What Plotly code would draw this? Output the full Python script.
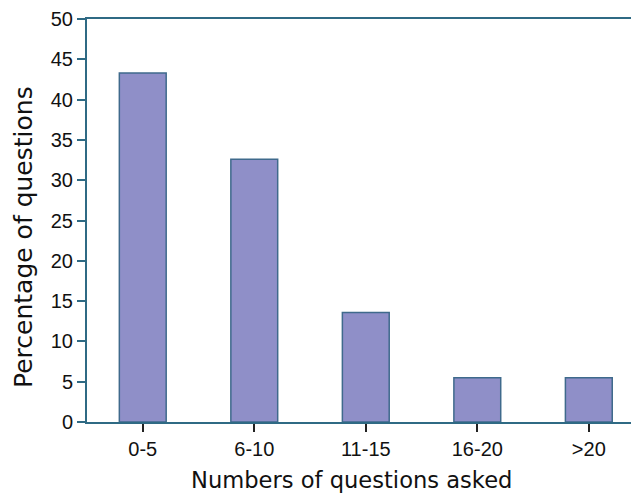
import plotly.graph_objects as go

categories = ["0-5", "6-10", "11-15", "16-20", ">20"]
percentages = [43.3, 32.6, 13.6, 5.5, 5.5]
y_ticks = [0, 5, 10, 15, 20, 25, 30, 35, 40, 45, 50]
x_title = "Numbers of questions asked"
y_title = "Percentage of questions"

axis_col = "#2f6a84"
fig = go.Figure(go.Bar(
    x=categories, y=percentages,
    marker=dict(color="#8f8fc8", line=dict(color="#3f6a8c", width=1.5)),
    width=0.42,
))
# The page body has an 8px margin, so the figure is sized/offset to compensate
fig.update_layout(
    width=631, height=485,
    margin=dict(l=79, r=0, t=11, b=71, autoexpand=False),
    plot_bgcolor="white", paper_bgcolor="white",
    showlegend=False,
    font=dict(family="Liberation Sans, Arial", color="#111111"),
    annotations=[
        dict(text=x_title, xref="paper", yref="paper", x=0.479, y=-0.144,
             showarrow=False, xanchor="center", yanchor="middle",
             font=dict(family="DejaVu Sans", size=22.6, color="#111111")),
        dict(text=y_title, xref="paper", yref="paper", x=-0.116, y=0.459,
             showarrow=False, xanchor="center", yanchor="middle", textangle=-90,
             font=dict(family="DejaVu Sans", size=25, color="#111111")),
    ],
)
fig.update_xaxes(
    range=[-0.5, 4.45], showline=True, linecolor=axis_col, linewidth=2, mirror=True,
    ticks="outside", ticklen=8, tickcolor="#222222", tickwidth=1.5,
    tickfont=dict(size=20), showgrid=False, automargin=False,
)
fig.update_yaxes(
    range=[0, 50], tickvals=y_ticks, showline=True, linecolor=axis_col, linewidth=2,
    ticks="outside", ticklen=8, tickcolor=axis_col, tickwidth=1.5,
    tickfont=dict(size=20), showgrid=False, zeroline=False, automargin=False,
)
fig.write_html("out.html")
